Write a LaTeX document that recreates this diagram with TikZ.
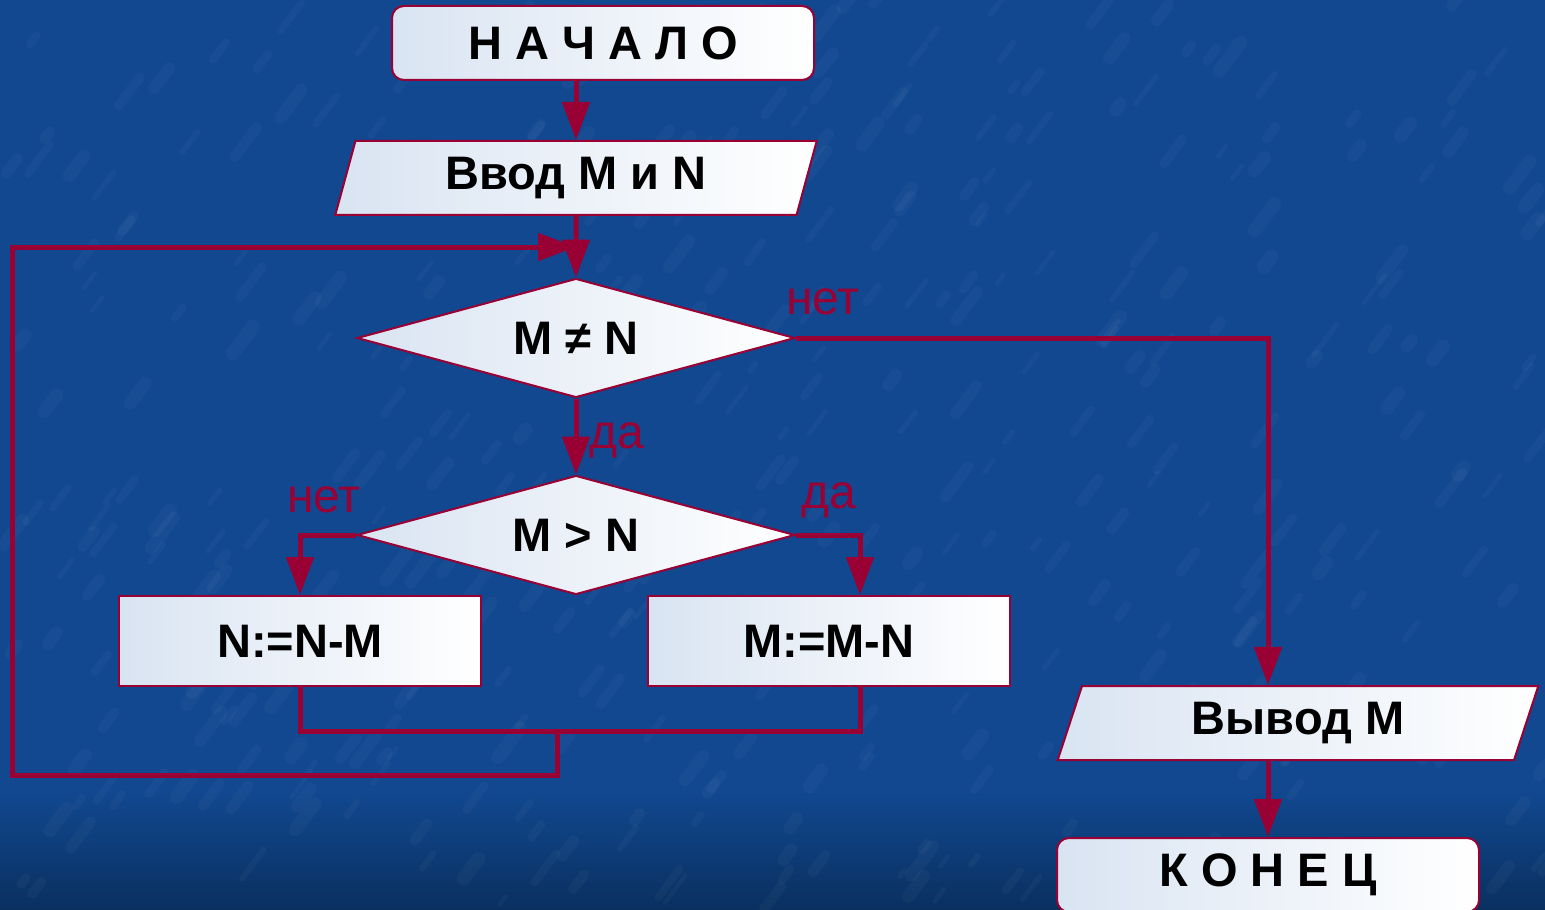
\documentclass[tikz,border=0pt]{standalone}
\usepackage{fontspec}
\setmainfont{Liberation Sans}
\usetikzlibrary{arrows.meta,shapes.geometric}
\definecolor{bgblue}{HTML}{114890}
\definecolor{bgdark}{HTML}{0A3060}
\definecolor{wine}{HTML}{990033}
\definecolor{paleblue}{HTML}{D9E4F2}

\begin{document}
\begin{tikzpicture}[x=0.5pt,y=-0.5pt,
  blk/.style={draw=wine,line width=1pt,left color=paleblue,right color=white,font=\bfseries\fontsize{23.5}{26}\selectfont,inner sep=0pt},
  term/.style={blk,rounded corners=6pt,minimum width=211pt,minimum height=37pt},
  io/.style={blk,trapezium,trapezium left angle=74,trapezium right angle=106,trapezium stretches=true,minimum width=241pt,minimum height=37pt},
  proc/.style={blk,rectangle,minimum width=181pt,minimum height=45pt},
  cond/.style={blk,diamond,aspect=3.66,minimum width=219pt,minimum height=59.5pt},
  arr/.style={-{Triangle[length=19pt,width=13.5pt]},line width=2.5pt,draw=wine},
  flow/.style={line width=2.5pt,draw=wine},
  ans/.style={text=wine,font=\fontsize{24}{26}\selectfont,inner sep=0pt}
]
% background
\useasboundingbox (0,0) rectangle (1545,909);
\clip (0,0) rectangle (1545,909);
\fill[bgblue] (0,0) rectangle (1545,909);
\shade[top color=bgblue,bottom color=bgdark] (0,790) rectangle (1545,909);
\pgfmathsetseed{7}
\foreach \k in {1,...,420}{
  \pgfmathsetmacro\sx{rnd*1545}
  \pgfmathsetmacro\sy{rnd*909}
  \pgfmathsetmacro\sl{8+rnd*30}
  \pgfmathsetmacro\sw{2+rnd*5}
  \draw[white,opacity=0.03,line width=\sw pt,line cap=round] (\sx,\sy) -- ++(0.6*\sl,-0.8*\sl);
}

% blocks
\node[term] (start) at (603,43) {Н А Ч А Л О};
\node[io] (vvod) at (576,178) {Ввод M и N};
\node[cond] (neq) at (576,338) {M ≠ N};
\node[cond] (gt) at (576,535) {M > N};
\node[proc] (subn) at (300,641) {N:=N-M};
\node[proc] (subm) at (829,641) {M:=M-N};
\node[io,minimum width=240.5pt] (vyvod) at (1298,723) {Вывод M};
\node[term] (stop) at (1268,875) {К О Н Е Ц};

\coordinate (join) at (576,247);
\coordinate (bot) at (557,731);
\coordinate (back) at (12,775);

% connectors
\draw[arr] (start.south -| vvod.north) -- (vvod.north);
\draw[flow] (vvod.south) -- (join);
\draw[arr] (join) -- (neq.north);
\draw[arr] (neq.south) -- (gt.north);
\draw[arr] (neq.east) -| (stop.north |- vyvod.north);
\draw[arr] (stop.north |- vyvod.south) -- (stop.north);
\draw[arr] (gt.west) -| (subn.north);
\draw[arr] (gt.east) -| ([xshift=15.5pt]subm.north);
\draw[flow] (subn.south) |- (bot) -| ([xshift=15.5pt]subm.south);
\draw[arr] (bot) |- (back) |- (join);

% answers
\node[ans] (n1) at (823,302) {нет};
\node[ans] (y1) at (617,440) {да};
\node[ans] (n2) at (324,500) {нет};
\node[ans] (y2) at (829,500) {да};
\end{tikzpicture}
\end{document}
